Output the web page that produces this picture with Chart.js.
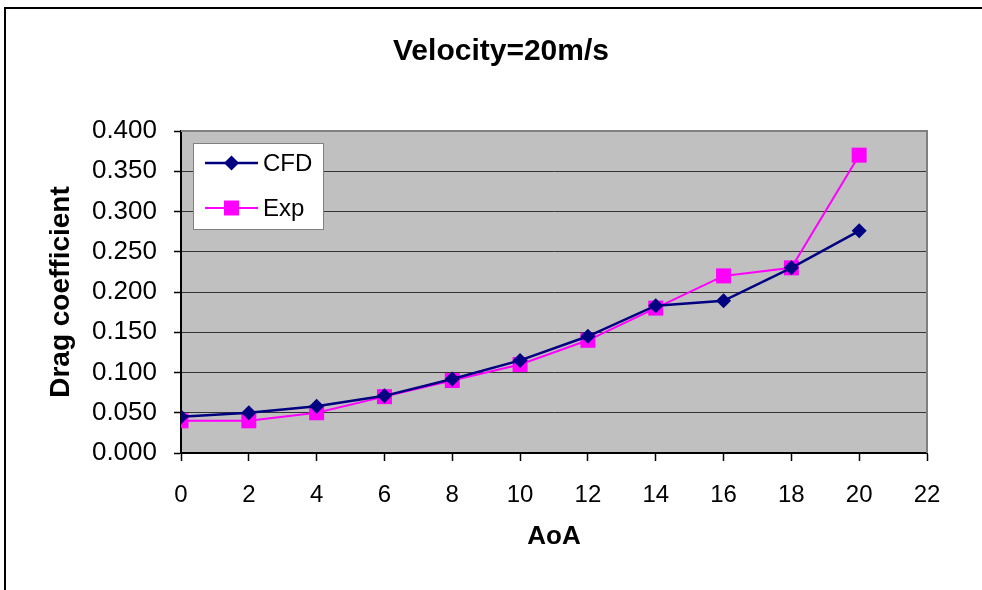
<!DOCTYPE html>
<html>
<head>
<meta charset="utf-8">
<script src="https://cdn.jsdelivr.net/npm/chart.js@4.4.0/dist/chart.umd.min.js"></script>
<style>
    body { margin: 0; background: #fff; }
    #wrap { width: 982px; height: 590px; }
</style>
</head>
<body>
<div id="wrap"><canvas id="drag-chart" width="982" height="590"></canvas></div>
<script>
const aoa = [0, 2, 4, 6, 8, 10, 12, 14, 16, 18, 20];
const cfdValues = [0.045, 0.050, 0.058, 0.071, 0.092, 0.115, 0.145, 0.183, 0.189, 0.230, 0.276];
const expValues = [0.040, 0.040, 0.050, 0.070, 0.090, 0.110, 0.140, 0.180, 0.220, 0.230, 0.370];
const seriesNames = ['CFD', 'Exp'];
const xTicks = [0, 2, 4, 6, 8, 10, 12, 14, 16, 18, 20, 22];
const yTicks = [0, 0.05, 0.1, 0.15, 0.2, 0.25, 0.3, 0.35, 0.4];

const FONT = "'Liberation Sans', Arial, sans-serif";
Chart.defaults.font.family = FONT;
Chart.defaults.color = '#000';

// marker used in the legend box (same shapes as the line points)
function drawMarker(ctx, style, x, y, r, color) {
    ctx.fillStyle = color;
    ctx.beginPath();
    if (style === 'rect') {
        const s = r * Math.SQRT1_2;
        ctx.rect(x - s, y - s, 2 * s, 2 * s);
    } else {
        ctx.moveTo(x - r, y);
        ctx.lineTo(x, y - r);
        ctx.lineTo(x + r, y);
        ctx.lineTo(x, y + r);
        ctx.closePath();
    }
    ctx.fill();
}

const chartDecor = {
    id: 'chartDecor',
    beforeDraw(chart) {
        const { ctx, chartArea: a } = chart;
        ctx.save();
        ctx.fillStyle = '#fff';
        ctx.fillRect(0, 0, chart.width, chart.height);
        ctx.strokeStyle = '#000';
        ctx.lineWidth = 2;
        ctx.strokeRect(5, 8, chart.width + 20, chart.height + 20);
        ctx.fillStyle = '#c0c0c0';
        ctx.fillRect(a.left, a.top, a.right - a.left, a.bottom - a.top);
        ctx.restore();
    },
    beforeDatasetsDraw(chart) {
        const { ctx, chartArea: a } = chart;
        ctx.save();
        ctx.strokeStyle = '#808080';
        ctx.lineWidth = 2;
        ctx.beginPath();
        ctx.moveTo(a.left, a.top);
        ctx.lineTo(a.right, a.top);
        ctx.lineTo(a.right, a.bottom);
        ctx.stroke();
        ctx.restore();
    },
    afterDatasetsDraw(chart) {
        const { ctx, chartArea: a } = chart;
        const bx = a.left + 12, by = a.top + 12;
        ctx.save();
        ctx.fillStyle = '#fff';
        ctx.fillRect(bx, by, 130, 86);
        ctx.strokeStyle = '#808080';
        ctx.lineWidth = 1;
        ctx.strokeRect(bx + 0.5, by + 0.5, 130, 86);
        ctx.font = '24px ' + FONT;
        ctx.textBaseline = 'middle';
        chart.data.datasets.forEach((ds, i) => {
            const y = by + 20 + i * 45;
            ctx.strokeStyle = ds.borderColor;
            ctx.lineWidth = ds.borderWidth;
            ctx.beginPath();
            ctx.moveTo(bx + 12, y);
            ctx.lineTo(bx + 65, y);
            ctx.stroke();
            drawMarker(ctx, ds.pointStyle, bx + 38.5, y, ds.pointRadius, ds.pointBackgroundColor);
            ctx.fillStyle = '#000';
            ctx.fillText(ds.label, bx + 70, y + 1);
        });
        ctx.restore();
    }
};

new Chart(document.getElementById('drag-chart'), {
    type: 'line',
    data: {
        datasets: [{
            label: seriesNames[0],
            data: aoa.map((x, i) => ({ x: x, y: cfdValues[i] })),
            borderColor: '#000080',
            backgroundColor: '#000080',
            pointBackgroundColor: '#000080',
            pointBorderWidth: 0,
            borderWidth: 2.5,
            pointStyle: 'rectRot',
            pointRadius: 7.5,
            tension: 0
        }, {
            label: seriesNames[1],
            data: aoa.map((x, i) => ({ x: x, y: expValues[i] })),
            borderColor: '#ff00ff',
            backgroundColor: '#ff00ff',
            pointBackgroundColor: '#ff00ff',
            pointBorderWidth: 0,
            borderWidth: 2,
            pointStyle: 'rect',
            pointRadius: 10.6,
            tension: 0
        }]
    },
    options: {
        responsive: false,
        animation: false,
        layout: { padding: { left: 75, right: 55, top: 0, bottom: 34 } },
        plugins: {
            legend: { display: false },
            tooltip: { enabled: false },
            title: {
                display: true,
                text: 'Velocity=20m/s',
                color: '#000',
                font: { size: 30, weight: 'bold' },
                padding: { top: 34, bottom: 61 }
            }
        },
        scales: {
            x: {
                type: 'linear',
                min: 0,
                max: 22,
                afterBuildTicks: s => { s.ticks = xTicks.map(v => ({ value: v })); },
                afterFit: s => { s.height = 103; },
                ticks: { font: { size: 24 }, color: '#000', padding: 20, maxRotation: 0 },
                grid: { drawOnChartArea: false, tickLength: 8, tickColor: '#000', tickWidth: 1.5 },
                border: { color: '#000', width: 2 },
                title: { display: true, text: 'AoA', color: '#000', font: { size: 26, weight: 'bold' }, padding: { top: 4, bottom: 4 } }
            },
            y: {
                min: 0,
                max: 0.4,
                afterBuildTicks: s => { s.ticks = yTicks.map(v => ({ value: v })); },
                afterFit: s => { s.width = 106; },
                ticks: { font: { size: 26 }, color: '#000', padding: 17, callback: v => v.toFixed(3) },
                grid: { color: '#333', tickLength: 7, tickColor: '#000', tickWidth: 1.5 },
                border: { color: '#000', width: 2 },
                title: { display: true, text: 'Drag coefficient', color: '#000', font: { size: 28, weight: 'bold' }, padding: { top: -31, bottom: 4 } }
            }
        }
    },
    plugins: [chartDecor]
});
</script>
</body>
</html>
